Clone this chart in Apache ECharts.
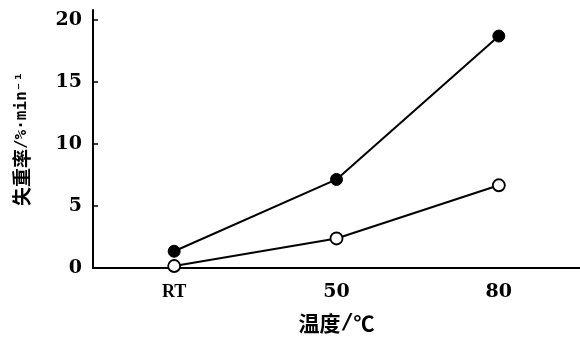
<!DOCTYPE html>
<html><head><meta charset="utf-8">
<script src="https://cdn.jsdelivr.net/npm/echarts@6/dist/echarts.min.js"></script>
<style>html,body{margin:0;padding:0;background:#fff}#c{width:580px;height:339px}</style>
</head><body><div id="c"></div>
<script>
const categories = ['RT', '50', '80'];
const filledSeries = [1.35, 7.14, 18.7];
const openSeries = [0.16, 2.38, 6.67];
const yTicks = [0, 5, 10, 15, 20];

const chart = echarts.init(document.getElementById('c'), null, {renderer: 'canvas'});
const numFont = {fontFamily: 'DejaVu Serif', fontWeight: 'bold', fontSize: 19, color: '#000'};
const catData = categories.map(c => c === 'RT'
  ? {value: c, textStyle: {fontFamily: 'Liberation Serif', fontWeight: 'bold', fontSize: 18}}
  : {value: c});
chart.setOption({
  animation: false,
  backgroundColor: '#fff',
  grid: {left: 93, right: -2, top: 10, bottom: 66},
  xAxis: {
    type: 'category', data: catData, boundaryGap: true,
    name: '{a|温度}{b|/}{a|℃}', nameLocation: 'middle', nameGap: 44,
    nameTextStyle: {color: '#000', rich: {
      a: {fontFamily: 'Noto Sans CJK SC', fontWeight: 'bold', fontSize: 21, color: '#000'},
      b: {fontFamily: 'DejaVu Sans Mono', fontWeight: 'bold', fontSize: 22, color: '#000'}
    }},
    axisLine: {lineStyle: {color: '#000', width: 2}},
    axisTick: {inside: true, length: 5, lineStyle: {color: '#000', width: 1.5}},
    axisLabel: Object.assign({margin: 15}, numFont),
    splitLine: {show: false}
  },
  yAxis: {
    type: 'value', min: 0, max: 20.8,
    name: '{a|失重率}{b|/%·min}{s|⁻¹}', nameLocation: 'middle', nameGap: 62, nameRotate: 90,
    nameTextStyle: {color: '#000', rich: {
      a: {fontFamily: 'Noto Sans CJK SC', fontWeight: 'bold', fontSize: 19, color: '#000'},
      b: {fontFamily: 'DejaVu Sans Mono', fontWeight: 'bold', fontSize: 16, color: '#000'},
      s: {fontFamily: 'DejaVu Sans Mono', fontWeight: 'bold', fontSize: 16, color: '#000'}
    }},
    axisLine: {show: true, lineStyle: {color: '#000', width: 2}},
    axisTick: {show: true, inside: true, length: 5, customValues: yTicks, lineStyle: {color: '#000', width: 1.5}},
    axisLabel: Object.assign({margin: 11, customValues: yTicks}, numFont),
    splitLine: {show: false}
  },
  series: [
    {type: 'line', data: filledSeries, symbol: 'circle', symbolSize: 12,
     lineStyle: {color: '#000', width: 2}, itemStyle: {color: '#000', borderColor: '#000', borderWidth: 1}},
    {type: 'line', data: openSeries, symbol: 'circle', symbolSize: 12,
     lineStyle: {color: '#000', width: 2}, itemStyle: {color: '#fff', borderColor: '#000', borderWidth: 1.8}}
  ]
});
</script></body></html>
